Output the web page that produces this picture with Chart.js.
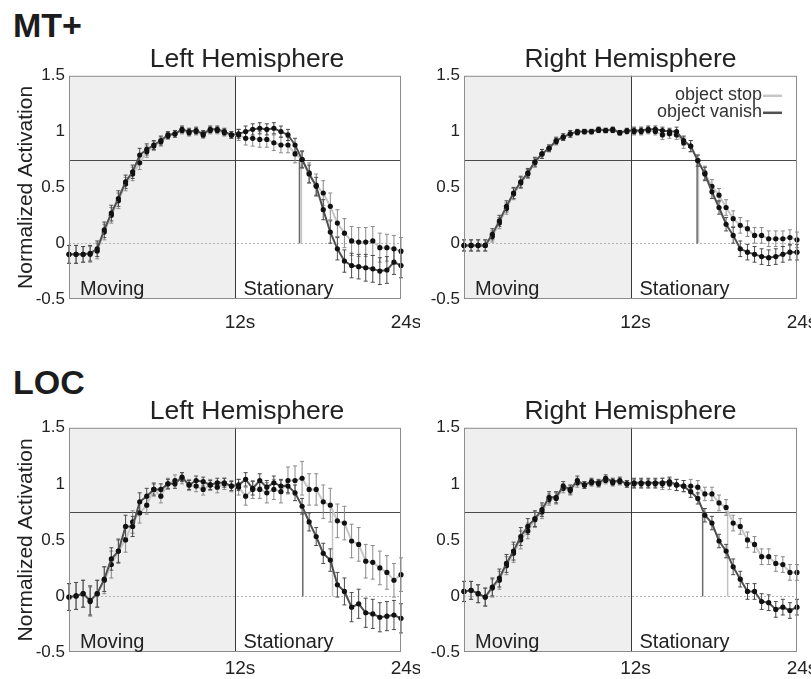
<!DOCTYPE html>
<html>
<head>
<meta charset="utf-8">
<script src="https://cdn.jsdelivr.net/npm/chart.js@4/dist/chart.umd.min.js"></script>
<style>
  body { margin: 0; width: 811px; height: 679px; position: relative; overflow: hidden; background: #fff; }
  canvas { position: absolute; }
  .region { position: absolute; font: bold 34px 'Liberation Sans', Arial, sans-serif; line-height: 34px; color: #1c1c1c; }
</style>
</head>
<body>
<div class="region" style="left:13px; top:8px">MT+</div>
<div class="region" style="left:13px; top:365px">LOC</div>
<canvas id="mtLeft" width="420" height="340" style="left:0; top:0"></canvas>
<canvas id="mtRight" width="411" height="340" style="left:400px; top:0"></canvas>
<canvas id="locLeft" width="420" height="339" style="left:0; top:340px"></canvas>
<canvas id="locRight" width="411" height="339" style="left:400px; top:340px"></canvas>
<script>
const FONT = "'Liberation Sans', Arial, sans-serif";

// sample times (s), 48 volumes over the 24 s block
const times = [0, 0.51, 1.02, 1.53, 2.04, 2.55, 3.06, 3.57, 4.09, 4.60, 5.11, 5.62,
  6.13, 6.64, 7.15, 7.66, 8.17, 8.68, 9.19, 9.70, 10.21, 10.72, 11.23, 11.74,
  12.26, 12.77, 13.28, 13.79, 14.30, 14.81, 15.32, 15.83, 16.34, 16.85, 17.36, 17.87,
  18.38, 18.89, 19.40, 19.91, 20.43, 20.94, 21.45, 21.96, 22.47, 22.98, 23.49, 24];
const xTicks = [12, 24];
const yTicks = [-0.5, 0, 0.5, 1, 1.5];
const stimulusEnd = 12;
const halfMax = 0.75;

// MT+ left hemisphere
const mtLeftStop = [-0.10, -0.10, -0.10, -0.10, -0.07, 0.10, 0.25, 0.38, 0.53, 0.62, 0.72, 0.82,
  0.87, 0.91, 0.96, 0.98, 1.01, 0.99, 1.00, 0.97, 1.01, 1.01, 0.99, 0.97,
  0.97, 0.94, 0.94, 0.93, 0.93, 0.90, 0.88, 0.88, 0.80, 0.75, 0.63, 0.52,
  0.45, 0.33, 0.18, 0.09, 0.02, 0.01, 0.01, 0.02, -0.04, -0.04, -0.05, -0.07];
const mtLeftStopErr = [0.08, 0.08, 0.07, 0.07, 0.07, 0.07, 0.07, 0.07, 0.06, 0.06, 0.06, 0.05,
  0.04, 0.04, 0.03, 0.03, 0.03, 0.03, 0.03, 0.03, 0.03, 0.03, 0.03, 0.03,
  0.05, 0.06, 0.07, 0.07, 0.07, 0.07, 0.07, 0.07, 0.08, 0.08, 0.09, 0.10,
  0.11, 0.12, 0.12, 0.13, 0.13, 0.13, 0.13, 0.13, 0.13, 0.12, 0.12, 0.12];
const mtLeftVanish = [-0.10, -0.10, -0.10, -0.09, -0.05, 0.12, 0.27, 0.40, 0.55, 0.64, 0.79, 0.84,
  0.88, 0.92, 0.97, 0.98, 1.02, 1.00, 1.01, 0.98, 1.02, 1.02, 1.00, 0.97,
  0.98, 1.00, 1.02, 1.03, 1.02, 1.03, 1.00, 0.97, 0.88, 0.75, 0.62, 0.51,
  0.30, 0.10, -0.05, -0.16, -0.20, -0.21, -0.22, -0.23, -0.25, -0.24, -0.17, -0.20];
const mtLeftVanishErr = [0.08, 0.08, 0.07, 0.07, 0.07, 0.07, 0.07, 0.07, 0.06, 0.06, 0.06, 0.05,
  0.04, 0.04, 0.03, 0.03, 0.03, 0.03, 0.03, 0.03, 0.03, 0.03, 0.03, 0.03,
  0.04, 0.05, 0.05, 0.05, 0.05, 0.05, 0.05, 0.05, 0.06, 0.07, 0.08, 0.08,
  0.09, 0.10, 0.10, 0.10, 0.11, 0.11, 0.12, 0.12, 0.12, 0.12, 0.11, 0.11];
const mtLeftHalf = [16.8, 16.66]; // stop, vanish

// MT+ right hemisphere
const mtRightStop = [-0.02, -0.02, -0.02, -0.02, 0.06, 0.18, 0.31, 0.44, 0.54, 0.62, 0.72, 0.80,
  0.85, 0.91, 0.95, 0.98, 0.99, 1.00, 1.00, 1.01, 1.01, 1.01, 0.99, 1.00,
  1.00, 1.00, 1.01, 1.00, 0.97, 0.98, 0.97, 0.90, 0.87, 0.74, 0.63, 0.51,
  0.43, 0.32, 0.22, 0.16, 0.13, 0.07, 0.07, 0.04, 0.04, 0.04, 0.05, 0.03];
const mtRightStopErr = [0.05, 0.05, 0.05, 0.05, 0.05, 0.05, 0.05, 0.05, 0.05, 0.04, 0.04, 0.04,
  0.03, 0.03, 0.03, 0.03, 0.02, 0.02, 0.02, 0.02, 0.02, 0.02, 0.02, 0.02,
  0.03, 0.03, 0.03, 0.03, 0.04, 0.04, 0.04, 0.05, 0.05, 0.05, 0.06, 0.06,
  0.06, 0.07, 0.07, 0.07, 0.07, 0.07, 0.07, 0.07, 0.07, 0.07, 0.07, 0.07];
const mtRightVanish = [-0.02, -0.02, -0.02, -0.02, 0.08, 0.20, 0.33, 0.45, 0.55, 0.63, 0.73, 0.80,
  0.85, 0.92, 0.95, 0.98, 1.00, 1.00, 1.00, 1.02, 1.01, 1.02, 0.99, 1.01,
  1.01, 1.01, 1.02, 1.02, 1.01, 1.00, 1.00, 0.92, 0.87, 0.74, 0.62, 0.46,
  0.32, 0.17, 0.07, -0.05, -0.08, -0.10, -0.12, -0.13, -0.12, -0.10, -0.08, -0.08];
const mtRightVanishErr = [0.05, 0.05, 0.05, 0.05, 0.05, 0.05, 0.05, 0.05, 0.05, 0.04, 0.04, 0.04,
  0.03, 0.03, 0.03, 0.03, 0.02, 0.02, 0.02, 0.02, 0.02, 0.02, 0.02, 0.02,
  0.03, 0.03, 0.03, 0.03, 0.03, 0.03, 0.04, 0.04, 0.05, 0.05, 0.06, 0.06,
  0.06, 0.06, 0.07, 0.07, 0.07, 0.07, 0.07, 0.07, 0.07, 0.07, 0.07, 0.07];
const mtRightHalf = [16.9, 16.8];

// LOC left hemisphere
const locLeftStop = [-0.01, 0.00, 0.02, -0.05, 0.02, 0.14, 0.28, 0.40, 0.50, 0.66, 0.74, 0.81,
  0.95, 0.89, 1.00, 1.03, 1.05, 0.99, 0.98, 0.95, 0.99, 0.97, 1.00, 0.98,
  0.97, 0.89, 0.95, 0.95, 0.92, 0.95, 0.93, 1.03, 1.03, 1.05, 0.95, 0.95,
  0.84, 0.81, 0.67, 0.65, 0.49, 0.46, 0.31, 0.30, 0.25, 0.21, 0.14, 0.19];
const locLeftStopErr = [0.12, 0.12, 0.12, 0.13, 0.12, 0.12, 0.12, 0.11, 0.11, 0.10, 0.09, 0.08,
  0.06, 0.06, 0.05, 0.05, 0.05, 0.05, 0.05, 0.05, 0.05, 0.05, 0.05, 0.05,
  0.07, 0.08, 0.08, 0.08, 0.09, 0.09, 0.10, 0.12, 0.13, 0.15, 0.14, 0.14,
  0.15, 0.15, 0.15, 0.15, 0.15, 0.15, 0.15, 0.15, 0.15, 0.15, 0.15, 0.15];
const locLeftVanish = [-0.01, 0.00, 0.02, -0.04, 0.02, 0.15, 0.33, 0.40, 0.62, 0.62, 0.84, 0.89,
  0.95, 0.95, 1.00, 1.00, 1.06, 0.99, 1.03, 1.02, 0.99, 1.01, 1.01, 0.98,
  0.99, 1.04, 0.96, 1.03, 0.97, 1.01, 0.98, 0.98, 0.92, 0.80, 0.66, 0.53,
  0.38, 0.32, 0.10, 0.04, -0.10, -0.07, -0.15, -0.16, -0.19, -0.18, -0.17, -0.20];
const locLeftVanishErr = [0.12, 0.12, 0.12, 0.13, 0.12, 0.11, 0.10, 0.10, 0.10, 0.09, 0.08, 0.07,
  0.05, 0.05, 0.04, 0.04, 0.04, 0.04, 0.04, 0.04, 0.04, 0.04, 0.04, 0.04,
  0.05, 0.06, 0.06, 0.06, 0.06, 0.06, 0.06, 0.06, 0.07, 0.07, 0.08, 0.08,
  0.09, 0.10, 0.11, 0.12, 0.13, 0.13, 0.13, 0.13, 0.13, 0.13, 0.13, 0.13];
const locLeftHalf = [19.05, 16.9];

// LOC right hemisphere
const locRightStop = [0.04, 0.05, 0.02, -0.01, 0.07, 0.14, 0.27, 0.38, 0.50, 0.58, 0.68, 0.75,
  0.86, 0.87, 0.96, 0.94, 1.01, 0.99, 1.01, 1.00, 1.03, 1.01, 1.02, 1.00,
  1.00, 1.00, 1.00, 1.00, 1.00, 1.00, 0.99, 0.98, 0.98, 0.97, 0.91, 0.91,
  0.83, 0.79, 0.65, 0.62, 0.50, 0.46, 0.35, 0.35, 0.29, 0.28, 0.21, 0.21];
const locRightStopErr = [0.09, 0.08, 0.08, 0.08, 0.08, 0.08, 0.08, 0.08, 0.08, 0.07, 0.07, 0.06,
  0.05, 0.05, 0.04, 0.04, 0.04, 0.03, 0.03, 0.03, 0.03, 0.03, 0.03, 0.03,
  0.04, 0.04, 0.04, 0.04, 0.05, 0.05, 0.05, 0.05, 0.06, 0.06, 0.06, 0.06,
  0.07, 0.07, 0.07, 0.07, 0.07, 0.07, 0.07, 0.07, 0.07, 0.07, 0.07, 0.07];
const locRightVanish = [0.04, 0.05, 0.02, -0.01, 0.08, 0.16, 0.29, 0.40, 0.53, 0.62, 0.69, 0.77,
  0.88, 0.88, 0.98, 0.95, 1.03, 0.99, 1.02, 1.01, 1.05, 1.02, 1.03, 1.00,
  1.01, 1.01, 1.01, 1.01, 1.01, 1.02, 0.99, 0.98, 0.93, 0.87, 0.72, 0.65,
  0.49, 0.40, 0.26, 0.15, 0.04, 0.04, -0.05, -0.06, -0.12, -0.10, -0.13, -0.10];
const locRightVanishErr = [0.09, 0.08, 0.08, 0.08, 0.08, 0.08, 0.08, 0.08, 0.08, 0.07, 0.07, 0.06,
  0.05, 0.05, 0.04, 0.04, 0.04, 0.03, 0.03, 0.03, 0.03, 0.03, 0.03, 0.03,
  0.04, 0.04, 0.04, 0.04, 0.04, 0.04, 0.05, 0.05, 0.05, 0.05, 0.06, 0.06,
  0.06, 0.06, 0.07, 0.07, 0.07, 0.07, 0.07, 0.07, 0.07, 0.07, 0.07, 0.07];
const locRightHalf = [19.0, 17.2];

// shading, reference lines, error bars, labels and the legend
const panelDecor = {
  id: 'panelDecor',
  afterLayout(chart, args, opts) {
    // left panels have their title set a little right of the plot centre
    if (opts.titleShift && chart.titleBlock) {
      chart.titleBlock.left += opts.titleShift;
      chart.titleBlock.right += opts.titleShift;
    }
  },
  beforeDatasetsDraw(chart, args, opts) {
    const { ctx, chartArea: a, scales: { x, y } } = chart;
    const xMid = Math.round(x.getPixelForValue(stimulusEnd)) + 0.5;
    const y0 = Math.round(y.getPixelForValue(0)) + 0.5;
    const yHalf = Math.round(y.getPixelForValue(halfMax)) + 0.5;
    ctx.save();
    ctx.fillStyle = '#efefef';
    ctx.fillRect(a.left, a.top, xMid - a.left, a.bottom - a.top);

    ctx.lineWidth = 1;
    ctx.strokeStyle = '#b4b4b4';
    ctx.setLineDash([2, 2]);
    ctx.beginPath(); ctx.moveTo(a.left, y0); ctx.lineTo(a.right, y0); ctx.stroke();
    ctx.setLineDash([]);

    ctx.strokeStyle = '#4a4a4a';
    ctx.beginPath(); ctx.moveTo(a.left, yHalf); ctx.lineTo(a.right, yHalf); ctx.stroke();
    ctx.strokeStyle = '#3a3a3a';
    ctx.beginPath(); ctx.moveTo(xMid, a.top); ctx.lineTo(xMid, a.bottom); ctx.stroke();

    // time of half-max crossing for each condition
    ctx.lineWidth = 1.5;
    opts.half.forEach((t, i) => {
      const px = x.getPixelForValue(t);
      ctx.strokeStyle = chart.data.datasets[i].markColor;
      ctx.beginPath(); ctx.moveTo(px, y0); ctx.lineTo(px, yHalf); ctx.stroke();
    });

    ctx.lineWidth = 1;
    chart.data.datasets.forEach(ds => {
      ctx.strokeStyle = ds.errorColor;
      ds.data.forEach((v, i) => {
        const px = x.getPixelForValue(times[i]);
        const top = y.getPixelForValue(v + ds.errors[i]);
        const bot = y.getPixelForValue(v - ds.errors[i]);
        ctx.beginPath();
        ctx.moveTo(px, top); ctx.lineTo(px, bot);
        ctx.moveTo(px - 2, top); ctx.lineTo(px + 2, top);
        ctx.moveTo(px - 2, bot); ctx.lineTo(px + 2, bot);
        ctx.stroke();
      });
    });
    ctx.restore();
  },
  afterDatasetsDraw(chart, args, opts) {
    const { ctx, chartArea: a, scales: { x } } = chart;
    const xMid = Math.round(x.getPixelForValue(stimulusEnd)) + 0.5;
    ctx.save();
    ctx.strokeStyle = '#8c8c8c';
    ctx.lineWidth = 1;
    ctx.strokeRect(a.left + 0.5, a.top + 0.5, a.right - a.left - 1, a.bottom - a.top - 1);

    ctx.fillStyle = '#222';
    ctx.font = '20px ' + FONT;
    ctx.textBaseline = 'alphabetic';
    ctx.textAlign = 'left';
    ctx.fillText('Moving', a.left + 11, a.bottom - 4);
    ctx.fillText('Stationary', xMid + 8, a.bottom - 4);

    if (opts.legend) {
      ctx.font = '18px ' + FONT;
      ctx.textAlign = 'right';
      ctx.textBaseline = 'middle';
      chart.data.datasets.forEach((ds, i) => {
        const ly = a.top + 19 + i * 17;
        ctx.fillStyle = '#333';
        ctx.fillText(ds.label, a.right - 35, ly);
        ctx.strokeStyle = ds.borderColor;
        ctx.lineWidth = 2.5;
        ctx.beginPath(); ctx.moveTo(a.right - 34, ly + 1); ctx.lineTo(a.right - 15, ly + 1); ctx.stroke();
      });
    }
    ctx.restore();
  }
};

function makePanel(canvasId, p) {
  return new Chart(document.getElementById(canvasId), {
    type: 'line',
    data: {
      labels: times,
      datasets: [
        {
          label: 'object stop', data: p.stop, errors: p.stopErr,
          errorColor: '#8a8a8a', markColor: '#c4c4c4',
          borderColor: '#c6c6c6', borderWidth: 2, tension: 0,
          pointRadius: 2.6, pointBackgroundColor: '#111', pointBorderWidth: 0, order: 2
        },
        {
          label: 'object vanish', data: p.vanish, errors: p.vanishErr,
          errorColor: '#4a4a4a', markColor: '#6a6a6a',
          borderColor: '#505050', borderWidth: 2, tension: 0,
          pointRadius: 2.6, pointBackgroundColor: '#111', pointBorderWidth: 0, order: 1
        }
      ]
    },
    options: {
      responsive: false,
      animation: false,
      clip: 4,
      layout: { padding: { right: p.padRight } },
      plugins: {
        legend: { display: false },
        tooltip: { enabled: false },
        title: {
          display: true, text: p.title, fullSize: false, color: '#222',
          font: { family: FONT, size: 26.5, weight: 'normal', lineHeight: 1.2 },
          padding: { top: p.titleTop, bottom: 0 }
        },
        panelDecor: { half: p.half, legend: !!p.legend, titleShift: p.titleShift || 0 }
      },
      scales: {
        x: {
          type: 'linear', min: 0, max: 24,
          grid: { display: false, drawTicks: false },
          border: { display: false },
          afterBuildTicks: s => { s.ticks = xTicks.map(v => ({ value: v })); },
          afterFit: s => { s.height = p.xHeight; s.paddingLeft = 0; s.paddingRight = 0; },
          ticks: {
            padding: p.xPad, labelOffset: 5, maxRotation: 0, autoSkip: false,
            color: '#222', font: { family: FONT, size: 19 }, callback: v => v + 's'
          }
        },
        y: {
          min: -0.5, max: 1.5,
          grid: { display: false, drawTicks: false },
          border: { display: false },
          afterBuildTicks: s => { s.ticks = yTicks.map(v => ({ value: v })); },
          afterFit: s => { s.width = p.yWidth; },
          ticks: { padding: 4, color: '#222', font: { family: FONT, size: 17 }, callback: v => String(v) },
          title: {
            display: !!p.yTitle, text: 'Normalized Activation', color: '#222',
            font: { family: FONT, size: 21 }, padding: { top: 14, bottom: 0 }
          }
        }
      }
    },
    plugins: [panelDecor]
  });
}

makePanel('mtLeft', {
  title: 'Left Hemisphere', stop: mtLeftStop, stopErr: mtLeftStopErr,
  vanish: mtLeftVanish, vanishErr: mtLeftVanishErr, half: mtLeftHalf,
  yTitle: true, yWidth: 69, padRight: 19, titleTop: 44, titleShift: 12, xHeight: 41, xPad: 12
});
makePanel('mtRight', {
  title: 'Right Hemisphere', stop: mtRightStop, stopErr: mtRightStopErr,
  vanish: mtRightVanish, vanishErr: mtRightVanishErr, half: mtRightHalf,
  legend: true, yWidth: 64, padRight: 14, titleTop: 44, xHeight: 41, xPad: 12
});
makePanel('locLeft', {
  title: 'Left Hemisphere', stop: locLeftStop, stopErr: locLeftStopErr,
  vanish: locLeftVanish, vanishErr: locLeftVanishErr, half: locLeftHalf,
  yTitle: true, yWidth: 69, padRight: 19, titleTop: 56, titleShift: 12, xHeight: 27, xPad: 5
});
makePanel('locRight', {
  title: 'Right Hemisphere', stop: locRightStop, stopErr: locRightStopErr,
  vanish: locRightVanish, vanishErr: locRightVanishErr, half: locRightHalf,
  yWidth: 64, padRight: 14, titleTop: 56, xHeight: 27, xPad: 5
});
</script>
</body>
</html>
